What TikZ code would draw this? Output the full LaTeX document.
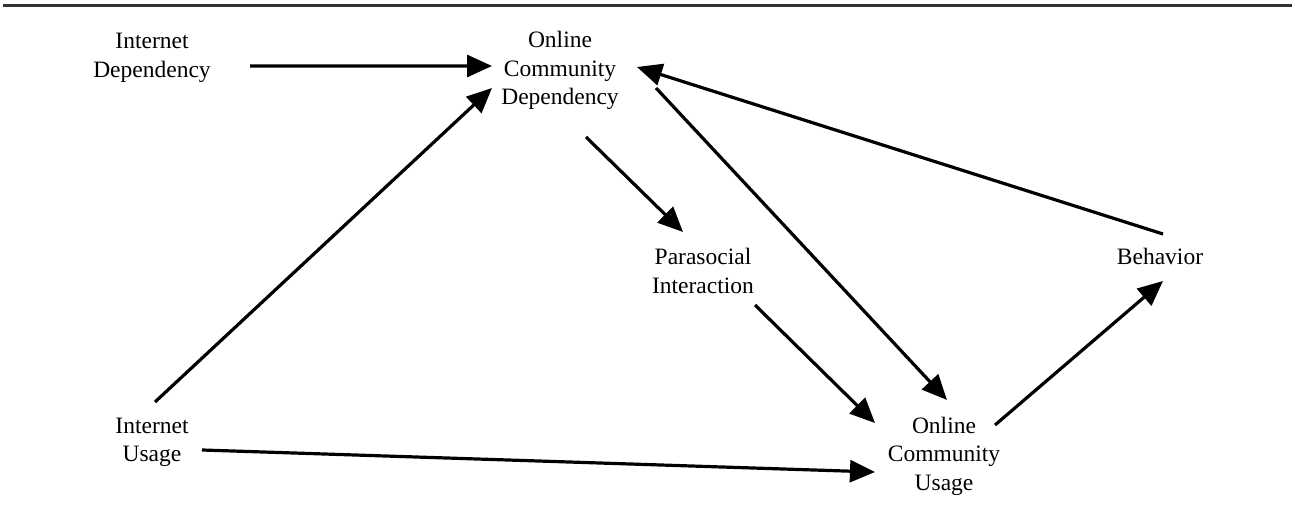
\documentclass[tikz,border=0pt]{standalone}
\usepackage{fontspec}
\setmainfont{Liberation Serif}
\usetikzlibrary{arrows.meta,calc}
\begin{document}
\begin{tikzpicture}[x=1bp,y=-1bp,
  concept/.style={inner sep=0pt,align=center,
    font=\fontsize{23.5bp}{28.5bp}\selectfont},
  link/.style={line width=3.2bp,-{Triangle[length=25bp,width=22bp]}},
  rule/.style={line width=3bp,draw=black!80}]
  \useasboundingbox (0,0) rectangle (1295,529);
  \draw[rule] (3,5.5) -- (1292,5.5);

  % constructs
  \node[concept] (ID)  at (152,57.3)  {\strut Internet\\\strut Dependency};
  \node[concept] (OCD) at (560,70.8)  {\strut Online\\\strut Community\\\strut Dependency};
  \node[concept] (PI)  at (703,273.3) {\strut Parasocial\\\strut Interaction};
  \node[concept] (IU)  at (152,441.8) {\strut Internet\\\strut Usage};
  \node[concept] (OCU) at (944,455.8) {\strut Online\\\strut Community\\\strut Usage};
  \node[concept] (BEH) at (1160,259.3){\strut Behavior};

  % paths
  \draw[link] ($(ID)+(98,8.7)$)   -- ($(OCD)+(-68,-4.8)$);
  \draw[link] ($(IU)+(3,-39.8)$)  -- ($(OCD)+(-68,17.2)$);
  \draw[link] ($(OCD)+(26,66.2)$) -- ($(PI)+(-20,-41.3)$);
  \draw[link] ($(OCD)+(96,17.2)$) -- ($(OCU)+(3,-55.8)$);
  \draw[link] ($(BEH)+(3,-25.3)$) -- ($(OCD)+(77,-3.8)$);
  \draw[link] ($(PI)+(52,31.7)$)  -- ($(OCU)+(-69,-32.8)$);
  \draw[link] ($(IU)+(50,8.2)$)   -- ($(OCU)+(-69,16.2)$);
  \draw[link] ($(OCU)+(51,-30.8)$)-- ($(BEH)+(3,21.7)$);
\end{tikzpicture}
\end{document}
